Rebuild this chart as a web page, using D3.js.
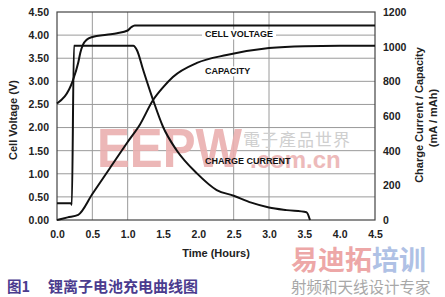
<!DOCTYPE html>
<html>
<head>
<meta charset="utf-8">
<script src="https://cdn.jsdelivr.net/npm/d3@7"></script>
<style>
  body { margin: 0; background: #fff; }
  text { font-family: "Liberation Sans", Arial, sans-serif; }
</style>
</head>
<body>
<div id="container"></div>
<script>
/* CONSTANTS AND GLOBALS */
const width = 445;
const height = 297;
const margin = { top: 12, bottom: 77, left: 57, right: 70 };

/* DATA */
// time in hours
const timeTicks = [0, 0.5, 1, 1.5, 2, 2.5, 3, 3.5, 4, 4.5];
const voltTicks = [0, 0.5, 1, 1.5, 2, 2.5, 3, 3.5, 4, 4.5];
const mAhTicks = [0, 200, 400, 600, 800, 1000, 1200];
const vGrid = [0.5, 1, 2.5, 3];

const voltT = [0, 0.22, 0.3, 0.33, 0.37, 0.42, 0.5, 0.7, 0.85, 1.0, 1.05, 1.1, 4.5];
const voltV = [2.52, 3.0, 3.4, 3.62, 3.8, 3.9, 3.96, 4.01, 4.04, 4.1, 4.17, 4.21, 4.21];

const currT = [0, 0.2, 0.21, 0.24, 1.08, 1.13, 1.22, 1.36, 1.5, 1.69, 1.98, 2.26, 2.5, 2.75, 3.0, 3.25, 3.53, 3.58];
const currI = [96, 96, 88, 1005, 1005, 981, 865, 692, 538, 404, 269, 173, 140, 100, 72, 57, 45, 0];

const capT = [0, 0.15, 0.3, 0.5, 0.75, 1.0, 1.17, 1.36, 1.5, 1.64, 1.98, 2.4, 3.0, 3.5, 4.0, 4.5];
const capQ = [0, 15, 30, 150, 300, 450, 548, 692, 765, 825, 906, 952, 992, 1003, 1005, 1005];

const svg = d3.select("#container")
  .append("svg")
  .attr("width", width)
  .attr("height", height);

/* SCALES */
const xScale = d3.scaleLinear().domain([0, 4.5]).range([margin.left, width - margin.right]);
const yV = d3.scaleLinear().domain([0, 4.5]).range([height - margin.bottom, margin.top]);
const yI = d3.scaleLinear().domain([0, 1200]).range([height - margin.bottom, margin.top]);

// grid
svg.append("g")
  .selectAll("line.h")
  .data(voltTicks.slice(1, -1))
  .join("line")
  .attr("x1", xScale(0)).attr("x2", xScale(4.5))
  .attr("y1", d => yV(d)).attr("y2", d => yV(d))
  .attr("stroke", "#9a9a9a").attr("stroke-width", 1);

svg.append("g")
  .selectAll("line.v")
  .data(vGrid)
  .join("line")
  .attr("x1", d => xScale(d)).attr("x2", d => xScale(d))
  .attr("y1", yV(0)).attr("y2", yV(4.5))
  .attr("stroke", "#9a9a9a").attr("stroke-width", 1);

// watermark
svg.append("text")
  .attr("x", 97).attr("y", 167)
  .attr("textLength", 145).attr("lengthAdjust", "spacingAndGlyphs")
  .attr("font-size", 55).attr("font-weight", "bold")
  .attr("fill", "#eab0b0").attr("opacity", 0.9)
  .text("EEPW");
svg.append("text")
  .attr("x", 243).attr("y", 146)
  .attr("font-size", 17).attr("fill", "#cfcfcf")
  .style("font-family", "Noto Sans CJK TC")
  .attr("letter-spacing", 1)
  .text("電子產品世界");
svg.append("text")
  .attr("x", 250).attr("y", 168)
  .attr("font-size", 24).attr("font-weight", "bold")
  .attr("fill", "#ecb3b3").attr("opacity", 0.9)
  .text(".com.cn");

// plot border
svg.append("rect")
  .attr("x", xScale(0)).attr("y", yV(4.5))
  .attr("width", xScale(4.5) - xScale(0)).attr("height", yV(0) - yV(4.5))
  .attr("fill", "none").attr("stroke", "#444").attr("stroke-width", 1.2);

// curve labels
function label(txt, x, y, bg) {
  const t = svg.append("text")
    .attr("x", x).attr("y", y)
    .attr("font-size", 9).attr("font-weight", "bold")
    .attr("fill", "#111").attr("dominant-baseline", "middle")
    .text(txt);
  if (bg) {
    const b = t.node().getBBox();
    svg.insert("rect", "text")
      .attr("x", b.x - 3).attr("y", b.y)
      .attr("width", b.width + 6).attr("height", b.height)
      .attr("fill", "#fff");
  }
}

/* LINES */
const lineV = d3.line().x(d => xScale(d[0])).y(d => yV(d[1])).curve(d3.curveMonotoneX);
const lineI = d3.line().x(d => xScale(d[0])).y(d => yI(d[1])).curve(d3.curveMonotoneX);

svg.append("path")
  .datum(voltT.map((t, i) => [t, voltV[i]]))
  .attr("d", lineV)
  .attr("fill", "none").attr("stroke", "#111").attr("stroke-width", 2);

svg.append("path")
  .datum(currT.map((t, i) => [t, currI[i]]))
  .attr("d", lineI)
  .attr("fill", "none").attr("stroke", "#111").attr("stroke-width", 2);

svg.append("path")
  .datum(capT.map((t, i) => [t, capQ[i]]))
  .attr("d", lineI)
  .attr("fill", "none").attr("stroke", "#111").attr("stroke-width", 2);

label("CELL VOLTAGE", 205, yV(4.0), true);
label("CAPACITY", 205, 72, true);
label("CHARGE CURRENT", 205, 162, false);

/* AXES */
svg.append("g")
  .attr("transform", `translate(${margin.left},0)`)
  .call(d3.axisLeft(yV).tickValues(voltTicks).tickFormat(d3.format(".2f")).tickSize(0).tickPadding(8))
  .call(g => g.select(".domain").remove())
  .selectAll("text").attr("font-size", 10.5).attr("font-weight", "bold").attr("fill", "#222")
  .style("font-family", "Liberation Sans");

svg.append("g")
  .attr("transform", `translate(${width - margin.right},0)`)
  .call(d3.axisRight(yI).tickValues(mAhTicks).tickFormat(d3.format("d")).tickSize(0).tickPadding(8))
  .call(g => g.select(".domain").remove())
  .selectAll("text").attr("font-size", 10.5).attr("font-weight", "bold").attr("fill", "#222")
  .style("font-family", "Liberation Sans");

svg.append("g")
  .attr("transform", `translate(0,${height - margin.bottom})`)
  .call(d3.axisBottom(xScale).tickValues(timeTicks).tickFormat(d3.format(".1f")).tickSize(0).tickPadding(11))
  .call(g => g.select(".domain").remove())
  .selectAll("text").attr("font-size", 10.5).attr("font-weight", "bold").attr("fill", "#222")
  .style("font-family", "Liberation Sans");

// axis titles
svg.append("text")
  .attr("transform", `translate(17,${(yV(0) + yV(4.5)) / 2 + 4}) rotate(-90)`)
  .attr("text-anchor", "middle")
  .attr("font-size", 11).attr("font-weight", "bold").attr("fill", "#222")
  .text("Cell Voltage (V)");

svg.append("text")
  .attr("transform", `translate(423,115) rotate(-90)`)
  .attr("text-anchor", "middle")
  .attr("font-size", 11).attr("font-weight", "bold").attr("fill", "#222")
  .text("Charge Current / Capacity");
svg.append("text")
  .attr("transform", `translate(437,118) rotate(-90)`)
  .attr("text-anchor", "middle")
  .attr("font-size", 11).attr("font-weight", "bold").attr("fill", "#222")
  .text("(mA / mAh)");

svg.append("text")
  .attr("x", (xScale(0) + xScale(4.5)) / 2).attr("y", 257)
  .attr("text-anchor", "middle")
  .attr("font-size", 11).attr("font-weight", "bold").attr("fill", "#222")
  .text("Time (Hours)");

// caption
svg.append("text")
  .attr("x", 7).attr("y", 292)
  .attr("font-size", 14.5).attr("font-weight", "bold").attr("fill", "#4b3c8e")
  .style("font-family", "Noto Sans CJK SC")
  .text("图1");
svg.append("text")
  .attr("x", 48).attr("y", 292)
  .attr("font-size", 15).attr("font-weight", "bold").attr("fill", "#4b3c8e")
  .style("font-family", "Noto Sans CJK SC")
  .text("锂离子电池充电曲线图");

// bottom-right watermark
const wm = svg.append("text")
  .attr("x", 291).attr("y", 270)
  .attr("font-size", 27).attr("font-weight", "bold")
  .style("font-family", "Noto Sans CJK SC")
  .attr("opacity", 0.55);
wm.append("tspan").attr("fill", "#e06060").text("易迪拓");
wm.append("tspan").attr("fill", "#6f8fd0").text("培训");
svg.append("text")
  .attr("x", 291).attr("y", 293)
  .attr("font-size", 15.5)
  .style("font-family", "Noto Sans CJK SC")
  .attr("fill", "#a8a8a8")
  .text("射频和天线设计专家");
</script>
</body>
</html>
